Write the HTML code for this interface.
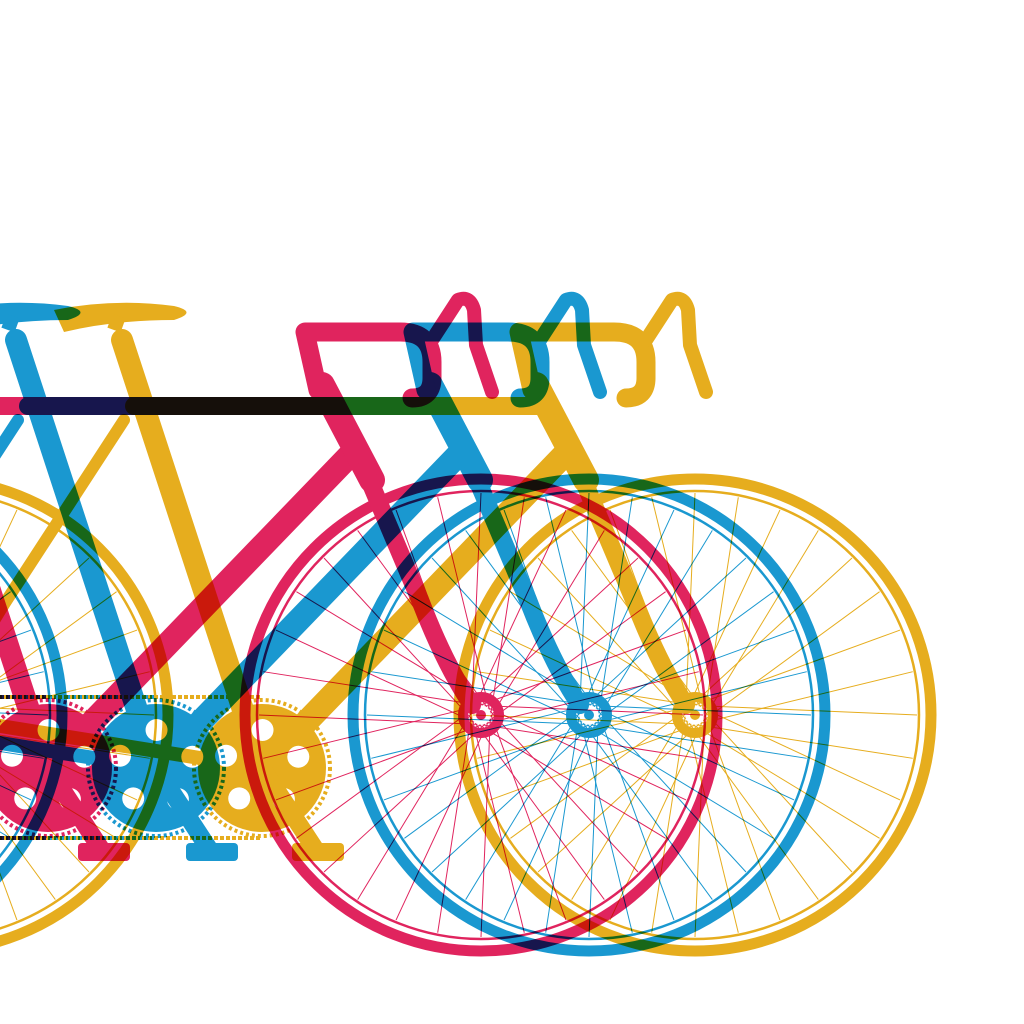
<!DOCTYPE html>
<html><head><meta charset="utf-8"><style>
html,body{margin:0;padding:0;background:#fff;width:1024px;height:1024px;overflow:hidden}
svg{display:block}
.bike{mix-blend-mode:multiply}
</style></head><body>
<svg id="art" width="1024" height="1024" viewBox="0 0 1024 1024" xmlns="http://www.w3.org/2000/svg">
<rect width="1024" height="1024" fill="#fff"/>
</svg>
<script>
const bikeNames=['red-bike','blue-bike','yellow-bike'];
const bikeColors=['#e0245e','#1a98d0','#e6ad1e'];
const bikeOffsets=[0,108,214];
const NS='http://www.w3.org/2000/svg';
const svg=document.getElementById('art');
function el(tag,attrs,parent){const e=document.createElementNS(NS,tag);for(const k in attrs)e.setAttribute(k,attrs[k]);parent.appendChild(e);return e;}
bikeNames.forEach((nm,i)=>{
  const c=bikeColors[i],dx=bikeOffsets[i];
  const g=el('g',{class:'bike',transform:'translate('+dx+',0)'},svg);
  
  
  const hub=[481,715],rear=[-282,715],bb=[48,768];
  [[hub,'front-wheel'],[rear,'rear-wheel']].forEach(([h,wn])=>{
    const w=el('g',{},g);
    
    
    el('circle',{cx:h[0],cy:h[1],r:236,fill:'none',stroke:c,'stroke-width':11},w);
    el('circle',{cx:h[0],cy:h[1],r:224,fill:'none',stroke:c,'stroke-width':2.5},w);
    el('circle',{cx:h[0],cy:h[1],r:18,fill:'none',stroke:c,'stroke-width':10},w);
    el('circle',{cx:h[0],cy:h[1],r:5,fill:c},w);
    for(let k=0;k<32;k++){
      const a=k*Math.PI*2/32, side=(k%2?1:-1);
      const sx=h[0]+10*Math.cos(a+side*1.2), sy=h[1]+10*Math.sin(a+side*1.2);
      const ex=h[0]+222*Math.cos(a), ey=h[1]+222*Math.sin(a);
      el('line',{x1:sx,y1:sy,x2:ex,y2:ey,stroke:c,'stroke-width':1},w);
    }
  });
  const f=el('g',{fill:'none',stroke:c,'stroke-linecap':'round','stroke-linejoin':'round'},g);
  
  
  const seatTop=[-100,330];
  el('line',{x1:bb[0],y1:bb[1],x2:seatTop[0]+8,y2:seatTop[1]+10,'stroke-width':22},f);
  el('line',{x1:seatTop[0]+20,y1:406,x2:335,y2:406,'stroke-width':18},f);
  el('line',{x1:bb[0],y1:bb[1],x2:350,y2:455,'stroke-width':24},f);
  el('line',{x1:322,y1:385,x2:372,y2:480,'stroke-width':26},f);
  el('path',{d:'M365,470 L420,600 Q445,665 472,705','stroke-width':18},f);
  el('line',{x1:bb[0],y1:bb[1],x2:rear[0],y2:rear[1],'stroke-width':14},f);
  el('line',{x1:seatTop[0]+10,y1:420,x2:rear[0],y2:rear[1],'stroke-width':12},f);
  el('path',{d:'M318,390 L305,332 L400,332 Q432,332 432,362 L432,378 Q432,398 412,398','stroke-width':19},f);
  el('path',{d:'M432,340 L458,300 Q470,295 474,310 L476,345 L492,392','stroke-width':14},f);
  el('path',{d:'M-160,310 Q-100,298 -40,306 Q-15,312 -40,320 Q-100,320 -150,332 Z',fill:c,stroke:'none'},g);
  el('line',{x1:seatTop[0],y1:seatTop[1],x2:-95,y2:316,stroke:c,'stroke-width':14},g);
  const cr=el('g',{},g);
  
  
  el('circle',{cx:bb[0],cy:bb[1],r:64,fill:c},cr);
  el('circle',{cx:bb[0],cy:bb[1],r:68,fill:'none',stroke:c,'stroke-width':4,'stroke-dasharray':'3 3'},cr);
  for(let k=0;k<5;k++){const a=k*Math.PI*2/5-0.3;
    el('circle',{cx:bb[0]+38*Math.cos(a),cy:bb[1]+38*Math.sin(a),r:11,fill:'#fff'},cr);}
  el('circle',{cx:bb[0],cy:bb[1],r:6,fill:'#fff'},cr);
  el('line',{x1:bb[0],y1:bb[1],x2:bb[0]+55,y2:852,stroke:c,'stroke-width':18,'stroke-linecap':'round'},cr);
  el('rect',{x:bb[0]+30,y:843,width:52,height:18,rx:4,fill:c},cr);
  el('line',{x1:bb[0]-300,y1:697,x2:bb[0],y2:697,stroke:c,'stroke-width':4,'stroke-dasharray':'4 2'},cr);
  el('line',{x1:bb[0]-300,y1:838,x2:bb[0],y2:838,stroke:c,'stroke-width':4,'stroke-dasharray':'4 2'},cr);
});
</script>
</body></html>
